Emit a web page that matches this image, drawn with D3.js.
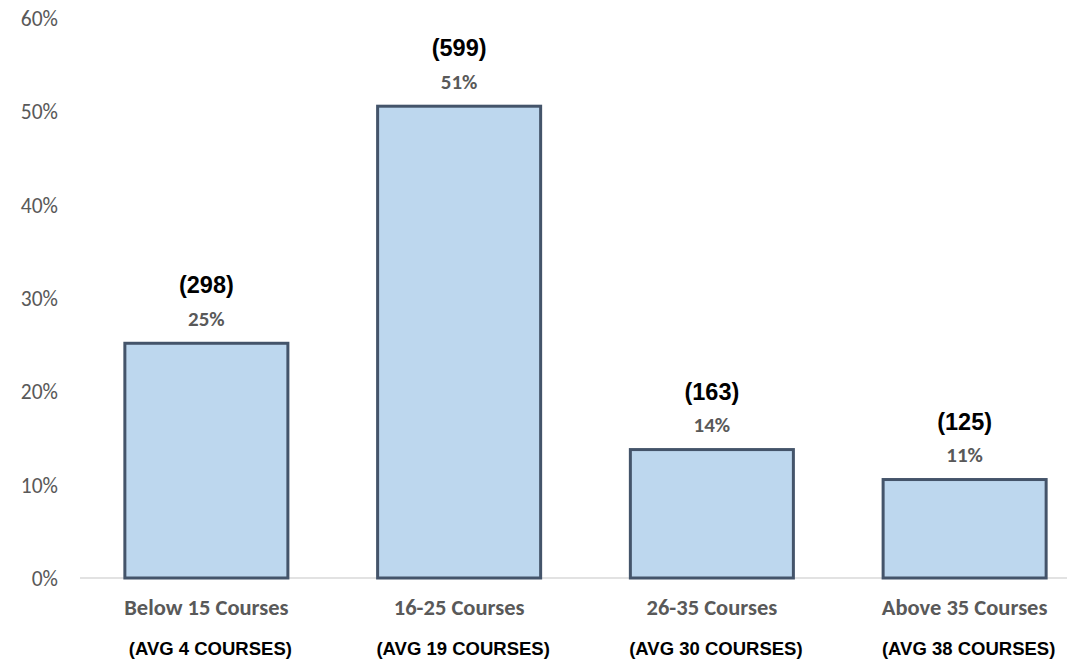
<!DOCTYPE html>
<html>
<head>
<meta charset="utf-8">
<script src="https://cdn.jsdelivr.net/npm/d3@7"></script>
<style>
  html, body { margin: 0; padding: 0; background: #fff; }
  svg { display: block; }
</style>
</head>
<body>
<svg id="chart" width="1070" height="661"></svg>
<script>
// ---- data ----
const categories = ["Below 15 Courses", "16-25 Courses", "26-35 Courses", "Above 35 Courses"];
const counts = [298, 599, 163, 125];
const shares = [0.2515, 0.5055, 0.1376, 0.1055];
const pctLabels = ["25%", "51%", "14%", "11%"];
const avgLabels = ["(AVG 4 COURSES)", "(AVG 19 COURSES)", "(AVG 30 COURSES)", "(AVG 38 COURSES)"];
const yTicks = [0, 0.1, 0.2, 0.3, 0.4, 0.5, 0.6];

const data = categories.map((c, i) => ({
  cat: c, count: counts[i], share: shares[i], pct: pctLabels[i], avg: avgLabels[i]
}));

// ---- layout ----
const svg = d3.select("#chart");
const x = d3.scaleBand().domain(categories).range([80, 1091]).paddingInner(0.355).paddingOuter(0.1775);
const y = d3.scaleLinear().domain([0, 0.6]).range([578, 18]);

const calibri = "Carlito, Lato, 'Open Sans', sans-serif";
const arial = "'Liberation Sans', Arial, sans-serif";
const grey = "#595959";

// y tick labels
const yAxis = d3.axisLeft(y).tickValues(yTicks).tickFormat(d3.format(".0%")).tickSize(0).tickPadding(0);
const gy = svg.append("g").attr("transform", "translate(58,0)").call(yAxis);
gy.select(".domain").remove();
gy.selectAll("text")
  .attr("fill", grey)
  .attr("font-family", calibri)
  .attr("font-size", 21.5)
  .attr("dy", "0.35em");

// baseline
svg.append("line")
  .attr("x1", 80).attr("x2", 1067)
  .attr("y1", y(0)).attr("y2", y(0))
  .attr("stroke", "#D9D9D9").attr("stroke-width", 1.5);

// bars
svg.append("g").selectAll("rect").data(data).join("rect")
  .attr("x", d => x(d.cat))
  .attr("y", d => y(d.share))
  .attr("width", x.bandwidth())
  .attr("height", d => y(0) - y(d.share))
  .attr("fill", "#BDD7EE")
  .attr("stroke", "#44546A")
  .attr("stroke-width", 3);

// percent labels
svg.append("g").selectAll("text").data(data).join("text")
  .attr("x", d => x(d.cat) + x.bandwidth() / 2)
  .attr("y", d => y(d.share) - 25)
  .attr("dy", "0.35em")
  .attr("text-anchor", "middle")
  .attr("fill", grey)
  .attr("font-family", calibri)
  .attr("font-weight", "bold")
  .attr("font-size", 21)
  .text(d => d.pct);

// count labels
svg.append("g").selectAll("text").data(data).join("text")
  .attr("x", d => x(d.cat) + x.bandwidth() / 2)
  .attr("y", d => y(d.share) - 58)
  .attr("dy", "0.35em")
  .attr("text-anchor", "middle")
  .attr("fill", "#000")
  .attr("font-family", arial)
  .attr("font-weight", "bold")
  .attr("font-size", 23.5)
  .text(d => "(" + d.count + ")");

// x category labels
const xAxis = d3.axisBottom(x).tickSize(0).tickPadding(0);
const gx = svg.append("g").attr("transform", "translate(0,607)").call(xAxis);
gx.select(".domain").remove();
gx.selectAll("text")
  .attr("y", 0)
  .attr("dy", "0.35em")
  .attr("fill", grey)
  .attr("font-family", calibri)
  .attr("font-weight", "bold")
  .attr("font-size", 22.5);

// avg labels
svg.append("g").selectAll("text").data(data).join("text")
  .attr("x", d => x(d.cat) + x.bandwidth() / 2 + 4)
  .attr("y", 649)
  .attr("dy", "0.35em")
  .attr("text-anchor", "middle")
  .attr("fill", "#000")
  .attr("font-family", arial)
  .attr("font-weight", "bold")
  .attr("font-size", 18.5)
  .text(d => d.avg);
</script>
</body>
</html>
